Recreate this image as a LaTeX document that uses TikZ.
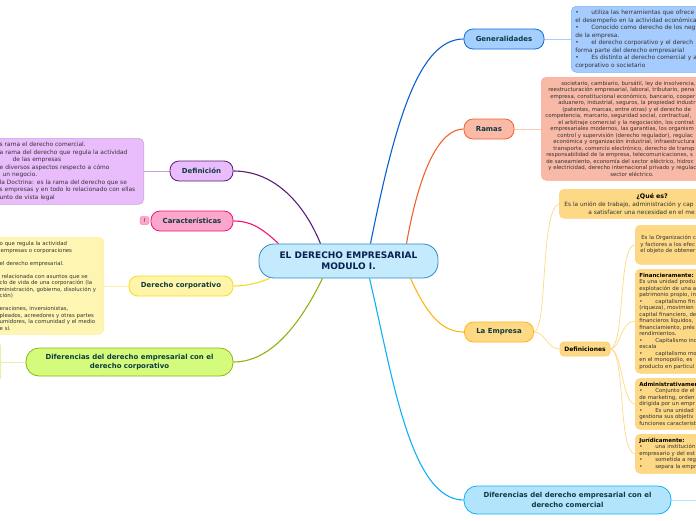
\documentclass[tikz,border=0pt]{standalone}
\usepackage{fontspec}
\setmainfont{DejaVu Sans}
\pgfdeclarelayer{bg}
\pgfsetlayers{bg,main}
\def\gprgb#1#2#3{rgb,255:red,#1;green,#2;blue,#3}
\def\bl{\makebox[16pt][l]{•}}
\def\hd#1{{\fontsize{5.5}{6.5}\selectfont\bfseries\color{black}#1}}
\tikzset{
  topic/.style={shape=rectangle,rounded corners=9pt,inner sep=1pt,line width=0.8pt,align=center,text=\gprgb{12}{58}{62},font=\fontsize{6.95}{9.6}\selectfont\bfseries},
  bodybox/.style={shape=rectangle,rounded corners=5pt,inner xsep=4pt,inner ysep=1pt,line width=0.6pt,align=left,text=black!80},
  bodysix/.style={bodybox,font=\fontsize{5.4}{6.5}\selectfont},
  bodyseven/.style={bodybox,font=\fontsize{5.9}{7.55}\selectfont},
  spine/.style={line width=1.1pt},
  twig/.style={line width=0.7pt}
}
\begin{document}
\begin{tikzpicture}[x=1pt,y=-1pt]
\useasboundingbox (0,0) rectangle (696,520);

% Draw the nodes...
\node (root) at (348.5,261) [topic,rounded corners=15pt,minimum width=179pt,minimum height=34pt,fill=\gprgb{196}{234}{253},draw=\gprgb{47}{136}{200},text=\gprgb{10}{32}{80},font=\fontsize{9}{11}\selectfont\bfseries] {EL DERECHO EMPRESARIAL\\MODULO I.};

\node (gen) at (504,39) [topic,minimum width=80pt,minimum height=20pt,fill=\gprgb{165}{207}{255},draw=\gprgb{11}{111}{224}] {Generalidades};
\node (ramas) at (489,129) [topic,minimum width=50pt,minimum height=20pt,fill=\gprgb{251}{185}{167},draw=\gprgb{242}{98}{46}] {Ramas};
\node (empresa) at (499,332) [topic,minimum width=69pt,minimum height=20pt,fill=\gprgb{253}{217}{133},draw=\gprgb{253}{181}{21}] {La Empresa};
\node (defs) at (585,349) [topic,rounded corners=4pt,minimum width=50pt,minimum height=14pt,fill=\gprgb{253}{217}{133},draw=\gprgb{253}{205}{110},text=black,font=\fontsize{6}{7}\selectfont\bfseries] {Definiciones};
\node (dcom) at (567.5,500) [topic,rounded corners=13pt,minimum width=207pt,minimum height=28pt,fill=\gprgb{179}{228}{253},draw=\gprgb{16}{176}{245}] {Diferencias del derecho empresarial con el\\derecho comercial};

\node (defin) at (201.5,171) [topic,minimum width=63pt,minimum height=20pt,fill=\gprgb{233}{189}{252},draw=\gprgb{92}{26}{122}] {Definición};
\node (carac) at (192,221) [topic,minimum width=82pt,minimum height=20pt,fill=\gprgb{252}{166}{204},draw=\gprgb{245}{18}{122}] {Características};
\node (warn) at (144.5,220.5) [shape=rectangle,rounded corners=2pt,minimum width=9pt,minimum height=8pt,inner sep=0pt,fill=\gprgb{252}{166}{204},draw=\gprgb{250}{140}{185},line width=0.5pt,font=\fontsize{5}{6}\selectfont] {!};
\node (dcorp) at (181,286) [topic,minimum width=104pt,minimum height=20pt,fill=\gprgb{255}{245}{168},draw=\gprgb{245}{220}{31}] {Derecho corporativo};
\node (ddif) at (129.5,362) [topic,rounded corners=13pt,minimum width=207pt,minimum height=28pt,fill=\gprgb{212}{251}{124},draw=\gprgb{141}{181}{16}] {Diferencias del derecho empresarial con el\\derecho corporativo};

\node (genbox) at (571,6) [bodyseven,anchor=north west,text width=200pt,minimum height=66pt,fill=\gprgb{165}{203}{255},draw=\gprgb{127}{178}{245}] {\bl utiliza las herramientas que ofrece\\
el desempeño en la actividad económica\\
\bl Conocido como derecho de los neg\\
de la empresa.\\
\bl el derecho corporativo y  el derech\\
forma parte del derecho empresarial\\
\bl Es distinto al derecho comercial y a\\
corporativo o societario};

\node (ramasbox) at (541,77) [bodysix,anchor=north west,text width=200pt,minimum height=103pt,fill=\gprgb{249}{185}{167},draw=\gprgb{247}{168}{143}] {\hspace*{16pt}societario, cambiario, bursátil, ley de insolvencia,\\
\hspace*{3pt}reestructuración empresarial, laboral, tributario, pena\\
\hspace*{5pt}empresa, constitucional económico, bancario, cooper\\
\hspace*{13pt}aduanero, industrial, seguros, la propiedad industr\\
\hspace*{17pt}(patentes, marcas, entre otras) y el derecho de\\
competencia, marcario, seguridad social, contractual,\\
\hspace*{13pt}el arbitraje comercial y la negociación, los contrat\\
\hspace*{5pt}empresariales modernos, las garantías, los organism\\
\hspace*{12pt}control y supervisión (derecho regulador), regulac\\
\hspace*{8pt}económica y organización industrial, infraestructura\\
\hspace*{8pt}transporte, comercio electrónico, derecho de transp\\
\hspace*{1pt}responsabilidad de la empresa, telecomunicaciones, s\\
\hspace*{1pt}de saneamiento, economía del sector eléctrico, hidroc\\
\hspace*{3pt}y electricidad, derecho internacional privado y regulac\\
\hspace*{65pt}sector eléctrico.};

\node (quebox) at (559,189) [bodybox,font=\fontsize{5.85}{7.8}\selectfont,anchor=north west,text width=200pt,minimum height=29pt,fill=\gprgb{253}{217}{133},draw=\gprgb{253}{210}{120}] {\hspace*{73pt}{\fontsize{6.3}{7.8}\selectfont\bfseries\color{black}¿Qué es?}\\
\hspace*{1pt}Es la unión de trabajo, administración y cap\\
\hspace*{25pt}a satisfacer una necesidad en el me};

\node (orgbox) at (635,225) [bodysix,anchor=north west,text width=100pt,minimum height=39pt,fill=\gprgb{253}{217}{133},draw=\gprgb{253}{210}{120}] {\hspace*{2pt}Es la Organización c\\
\hspace*{1pt}y factores a los efec\\
\hspace*{1pt}el objeto de obtener};

\node (finbox) at (635,269) [bodysix,anchor=north west,text width=100pt,minimum height=104pt,fill=\gprgb{253}{217}{133},draw=\gprgb{253}{210}{120}] {\hd{Financieramente:}\\
Es una unidad produ\\
explotación de una a\\
patrimonio propio, in\\
\bl capitalismo fin\\
(riqueza), movimien\\
capital financiero, de\\
financieros líquidos,\\
financiamiento, prés\\
rendimientos.\\
\bl Capitalismo ind\\
escala\\
\bl capitalismo mo\\
en el monopolio, es\\
producto en particul};

\node (admbox) at (635,378) [bodysix,anchor=north west,text width=100pt,minimum height=51pt,fill=\gprgb{253}{217}{133},draw=\gprgb{253}{210}{120}] {\hd{Administrativamen}\\
\bl Conjunto de el\\
de marketing, orden\\
dirigida por un empr\\
\bl Es una unidad\\
gestiona sus objetiv\\
funciones caracterist};

\node (jurbox) at (635,434) [bodysix,anchor=north west,text width=100pt,minimum height=39pt,fill=\gprgb{253}{217}{133},draw=\gprgb{253}{210}{120}] {\hd{Jurídicamente:}\\
\bl una institución\\
empresario y del est\\
\bl sometida a reg\\
\bl separa la empr};

\node (definbox) at (144,138) [bodyseven,anchor=north east,text width=140pt,minimum height=66pt,fill=\gprgb{233}{189}{252},draw=\gprgb{201}{163}{216}] {s rama el derecho comercial.\\
a rama del derecho que regula la actividad\\
\hspace*{13pt}de las empresas\\
e diversos aspectos respecto a cómo\\
\hspace*{3pt}un negocio.\\
la Doctrina: es la rama del derecho que se\\
s empresas y en todo lo relacionado con ellas\\
unto de vista legal};

\node (dcorpbox) at (104,237) [bodysix,anchor=north east,text width=100pt,minimum height=97pt,fill=\gprgb{255}{245}{179},draw=\gprgb{252}{238}{160}] {o que regula la actividad\\
\hspace*{1pt}empresas o corporaciones\\[6.5pt]
el derecho empresarial.\\[6.5pt]
\hspace*{2pt}relacionada con asuntos que se\\
clo de vida de una corporación (la\\
ministración, gobierno, disolución y\\
ción)\\[6.5pt]
eraciones, inversionistas,\\
pleados, acreedores y otras partes\\
umidores, la comunidad y el medio\\
e sí.};

\node (ddifbox) at (1,341) [bodybox,anchor=north east,minimum width=20pt,minimum height=41pt,fill=\gprgb{233}{249}{184},draw=\gprgb{220}{240}{160}] {};

% Draw the edges...
\begin{pgfonlayer}{bg}
\draw[spine,color=\gprgb{11}{95}{209}] ([xshift=22pt]root.north) .. controls +(25,-125) and +(-44,0) .. (gen.west);
\draw[spine,color=\gprgb{242}{98}{46}] ([xshift=58pt]root.north) .. controls +(13,-74) and +(-24,0) .. (ramas.west);
\draw[spine,color=\gprgb{253}{181}{21}] ([xshift=62pt]root.south) .. controls +(19,42) and +(-19,0) .. (empresa.west);
\draw[spine,color=\gprgb{15}{176}{245}] ([xshift=21pt]root.south) .. controls +(22,92) and +(-54,0) .. (dcom.west);
\draw[spine,color=\gprgb{92}{26}{122}] ([xshift=-28pt]root.north) .. controls +(-16,-39) and +(42,0) .. (defin.east);
\draw[spine,color=\gprgb{245}{18}{122}] ([xshift=-70pt]root.north) .. controls +(-17,-16) and +(17,0) .. (carac.east);
\draw[spine,color=\gprgb{245}{220}{31}] ([xshift=-79pt]root.south) .. controls +(-12,5) and +(12,0) .. (dcorp.east);
\draw[spine,color=\gprgb{141}{181}{16}] ([xshift=-26pt]root.south) .. controls +(-23,47) and +(37,0) .. (ddif.east);

\draw[twig,color=\gprgb{165}{203}{255}] (gen) -- (genbox.west |- gen);
\draw[twig,color=\gprgb{249}{200}{183}] (ramas) -- (ramasbox.west |- ramas);
\draw[twig,color=\gprgb{201}{163}{216}] (defin) -- (definbox.east |- defin);
\draw[twig,color=\gprgb{252}{240}{170}] (dcorp) -- (dcorpbox.east |- dcorp);
\draw[twig,color=\gprgb{225}{243}{175}] (ddif) -- (ddifbox.east |- ddif);
\draw[twig,color=\gprgb{179}{228}{253}] (dcom) -- (696,500);

\draw[twig,color=\gprgb{253}{217}{133}] (empresa.east) .. controls +(14,-2) and +(-19,6) .. (quebox.west);
\draw[twig,color=\gprgb{253}{217}{133}] (empresa.east) .. controls +(11,0) and +(-12,0) .. (defs.west);
\draw[twig,color=\gprgb{253}{217}{133}] (defs.east) .. controls +(15,-4) and +(-17,0) .. (orgbox.west);
\draw[twig,color=\gprgb{253}{217}{133}] (defs.east) .. controls +(10,0) and +(-15,0) .. (finbox.west);
\draw[twig,color=\gprgb{253}{217}{133}] (defs.east) .. controls +(12,1) and +(-13,0) .. (admbox.west);
\draw[twig,color=\gprgb{253}{217}{133}] (defs.east) .. controls +(15,1) and +(-17,0) .. (jurbox.west);
\end{pgfonlayer}

\end{tikzpicture}
\end{document}
